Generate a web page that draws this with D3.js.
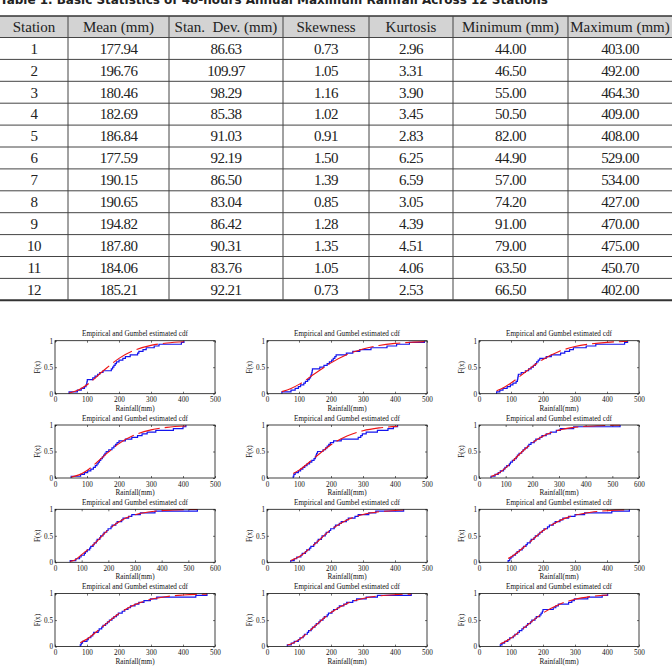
<!DOCTYPE html>
<html lang="en">
<head>
<meta charset="UTF-8">
<title>Basic Statistics of 48-hours Annual Maximum Rainfall</title>
<script src="https://cdn.jsdelivr.net/npm/d3@7"></script>
<style>
  * { margin:0; padding:0; box-sizing:border-box }
  body { background:#fff; width:672px; height:666px; overflow:hidden; }
  svg { display:block; }
  .cell { font-family:'Liberation Serif','Times New Roman',serif; font-size:15px; fill:#222; }
  .num { letter-spacing:-0.6px; }
</style>
</head>
<body>
<svg id="chart" width="672" height="666"></svg>
<script>
// ── Table values ─────────────────────────────
const headers   = ["Station","Mean (mm)","Stan.  Dev. (mm)","Skewness","Kurtosis","Minimum (mm)","Maximum (mm)"];
const stations  = [1,2,3,4,5,6,7,8,9,10,11,12];
const means     = [177.94,196.76,180.46,182.69,186.84,177.59,190.15,190.65,194.82,187.80,184.06,185.21];
const stdDevs   = [86.63,109.97,98.29,85.38,91.03,92.19,86.50,83.04,86.42,90.31,83.76,92.21];
const skewness  = [0.73,1.05,1.16,1.02,0.91,1.50,1.39,0.85,1.28,1.35,1.05,0.73];
const kurtosis  = [2.96,3.31,3.90,3.45,2.83,6.25,6.59,3.05,4.39,4.51,4.06,2.53];
const minimums  = [44.00,46.50,55.00,50.50,82.00,44.90,57.00,74.20,91.00,79.00,63.50,66.50];
const maximums  = [403.00,492.00,464.30,409.00,408.00,529.00,534.00,427.00,470.00,475.00,450.70,402.00];

// ── Plot values ──
const xMax = [500,500,500,500,500,600,600,500,500,500,500,500];

// sorted annual maxima per station (empirical cdf steps)
const rain = [
  [44,70,82,92,97,99,100,101,118,125,133,140,150,176,180,184,188,192,200,212,220,235,258,262,275,285,310,325,395,403],
  [46.5,75,88,98,105,115,120,127,132,136,138,140,141,142,165,178,188,195,202,207,212,216,248,268,290,325,375,405,445,492],
  [55,65,75,88,98,106,116,120,121,122,123,132,145,155,163,170,176,180,185,190,210,226,255,268,283,295,335,365,455,464.3],
  [50.5,80,92,102,112,120,126,131,135,139,143,148,152,156,160,168,178,184,189,194,200,220,240,258,272,288,315,370,400,409],
  [82,84,88,98,105,112,118,125,133,140,147,151,153,155,158,175,183,188,193,198,208,232,285,293,298,310,345,378,395,408],
  [44.9,60,72,80,92,97,104,114,118,125,133,140,144,150,160,165,172,182,187,195,207,213,228,236,252,268,290,305,355,529],
  [57,78,92,98,110,114,121,130,134,143,147,155,158,168,171,180,184,194,199,210,214,228,233,250,255,276,288,320,375,534],
  [74.2,85,93,106,110,120,124,133,137,146,149,157,160,170,172,182,185,195,199,210,214,226,232,248,254,275,285,318,340,427],
  [91,96,100,106,114,119,126,135,139,147,151,160,163,172,176,185,190,198,203,214,220,232,238,253,262,280,300,330,415,470],
  [79,82,86,100,104,112,118,121,135,138,146,150,158,164,170,178,184,192,198,210,218,228,236,250,262,278,298,318,440,475],
  [63.5,76,85,98,103,113,117,126,130,138,142,150,154,162,166,175,179,188,192,203,208,220,226,240,249,268,280,310,345,450.7],
  [66.5,72,80,90,96,107,112,121,126,134,139,148,152,161,165,175,179,190,194,198,200,232,240,248,280,290,298,340,385,402]
];

// Gumbel estimated cdf, [rainfall, F]
const gumbel = [
  [[44,0.017],[50,0.024],[75,0.076],[100,0.169],[150,0.428],[200,0.667],[250,0.824],[300,0.912],[350,0.957],[403,0.980]],
  [[46.5,0.039],[75,0.098],[100,0.176],[150,0.380],[200,0.582],[250,0.740],[300,0.845],[350,0.910],[400,0.949],[450,0.971],[492,0.982]],
  [[55,0.056],[75,0.108],[100,0.201],[150,0.434],[200,0.647],[250,0.797],[300,0.889],[350,0.940],[400,0.969],[450,0.984],[464.3,0.986]],
  [[50.5,0.017],[75,0.059],[100,0.143],[150,0.400],[200,0.649],[250,0.815],[300,0.908],[350,0.956],[409,0.981]],
  [[82,0.086],[100,0.148],[150,0.389],[200,0.627],[250,0.794],[300,0.892],[350,0.945],[408,0.975]],
  [[44.9,0.029],[75,0.096],[100,0.192],[150,0.439],[200,0.663],[250,0.815],[300,0.903],[350,0.950],[400,0.975],[450,0.987],[529,0.996]],
  [[57,0.018],[75,0.045],[100,0.145],[150,0.361],[200,0.616],[250,0.794],[300,0.896],[350,0.949],[400,0.975],[450,0.988],[534,0.997]],
  [[74.2,0.034],[100,0.103],[150,0.349],[200,0.615],[250,0.799],[300,0.902],[350,0.953],[400,0.978],[427,0.986]],
  [[91,0.073],[100,0.101],[150,0.336],[200,0.595],[250,0.781],[300,0.889],[350,0.945],[400,0.974],[470,0.991]],
  [[79,0.072],[100,0.142],[150,0.383],[200,0.624],[250,0.793],[300,0.892],[350,0.946],[400,0.973],[475,0.991]],
  [[63.5,0.029],[75,0.051],[100,0.131],[150,0.388],[200,0.644],[250,0.815],[300,0.909],[350,0.957],[400,0.980],[450.7,0.991]],
  [[66.5,0.054],[75,0.074],[100,0.160],[150,0.401],[200,0.634],[250,0.796],[300,0.893],[350,0.945],[402,0.973]]
];

const svg = d3.select("#chart");

// ── Caption (top half cut off in the original) ──
svg.append("text")
  .attr("x", 0).attr("y", 4)
  .attr("textLength", 548).attr("lengthAdjust", "spacingAndGlyphs")
  .style("font-family", "'DejaVu Sans',sans-serif")
  .style("font-weight", 700).style("font-size", "13px").attr("fill", "#222")
  .text("Table 1. Basic Statistics of 48-hours Annual Maximum Rainfall Across 12 Stations");

// ── Table ────────────────────────────────────
const colEdges = [0,68,169,283,369,453,568,672];
const tTop = 16, headH = 21.5, rowH = 21.9;
const tBottom = tTop + headH + rowH * stations.length;
const fmt = d3.format(".2f");
const rows = stations.map((s,i) => [String(s), fmt(means[i]), fmt(stdDevs[i]), fmt(skewness[i]),
                                    fmt(kurtosis[i]), fmt(minimums[i]), fmt(maximums[i])]);

const table = svg.append("g");
table.append("rect")
  .attr("x", 0).attr("y", tTop).attr("width", 672).attr("height", headH)
  .attr("fill", "#d3d3d3");

table.selectAll("text.head")
  .data(headers)
  .join("text")
  .attr("class", "cell")
  .attr("x", (d,i) => (colEdges[i] + colEdges[i+1]) / 2)
  .attr("y", tTop + headH / 2).attr("dy", "0.35em")
  .attr("text-anchor", "middle")
  .style("white-space", "pre")
  .text(d => d);

rows.forEach((r, ri) => {
  table.selectAll(null)
    .data(r)
    .join("text")
    .attr("class", "cell num")
    .attr("x", (d,i) => (colEdges[i] + colEdges[i+1]) / 2)
    .attr("y", tTop + headH + rowH * (ri + 0.5)).attr("dy", "0.35em")
    .attr("text-anchor", "middle")
    .text(d => d);
});

// horizontal rules
const hLines = [tTop + headH].concat(stations.slice(0, -1).map((s,i) => tTop + headH + rowH * (i + 1)));
table.selectAll("line.h")
  .data(hLines)
  .join("line")
  .attr("x1", 0).attr("x2", 672)
  .attr("y1", d => d).attr("y2", d => d)
  .attr("stroke", "#444").attr("stroke-width", 1);
table.append("line").attr("x1", 0).attr("x2", 672).attr("y1", tTop).attr("y2", tTop)
  .attr("stroke", "#333").attr("stroke-width", 1.6);
table.append("line").attr("x1", 0).attr("x2", 672).attr("y1", tBottom).attr("y2", tBottom)
  .attr("stroke", "#333").attr("stroke-width", 2);
// vertical rules
table.selectAll("line.v")
  .data(colEdges.slice(1, -1))
  .join("line")
  .attr("x1", d => d).attr("x2", d => d)
  .attr("y1", tTop).attr("y2", tBottom)
  .attr("stroke", "#444").attr("stroke-width", 1);

// ── CDF panels ───────────────────────────────
const colLeft = [55, 267, 479];
const rowTop  = [340.7, 425, 509.3, 593.6];
const axW = 160, axH = 53;
const serif = "'Liberation Serif','Times New Roman',serif";

stations.forEach((s, k) => {
  const g = svg.append("g")
    .attr("transform", `translate(${colLeft[k % 3]},${rowTop[Math.floor(k / 3)]})`);

  const x = d3.scaleLinear().domain([0, xMax[k]]).range([0, axW]);
  const y = d3.scaleLinear().domain([0, 1]).range([axH, 0]);
  const xt = d3.range(0, xMax[k] + 1, 100);

  const ax = (sel) => { sel.select(".domain").remove(); sel.selectAll("line").attr("stroke", "#111").attr("stroke-width", 0.6); };

  g.append("g").attr("transform", `translate(0,${axH})`)
    .call(d3.axisBottom(x).tickValues(xt).tickSize(-2).tickPadding(3.5).tickFormat(d3.format("d")))
    .call(ax);
  g.append("g")
    .call(d3.axisTop(x).tickValues(xt).tickSize(-2).tickFormat(""))
    .call(ax);
  g.append("g")
    .call(d3.axisLeft(y).tickValues([0, 0.5, 1]).tickSize(-2).tickPadding(2).tickFormat(d => String(d)))
    .call(ax);
  g.append("g").attr("transform", `translate(${axW},0)`)
    .call(d3.axisRight(y).tickValues([0, 0.5, 1]).tickSize(-2).tickFormat(""))
    .call(ax);
  g.selectAll(".tick text").style("font-family", serif).style("font-size", "7.2px").attr("fill", "#111");

  // empirical cdf (stairs)
  const v = rain[k], n = v.length;
  const steps = [[v[0], 0]].concat(v.map((d, i) => [d, (i + 1) / n]));
  g.append("path")
    .datum(steps)
    .attr("fill", "none").attr("stroke", "#1414ee").attr("stroke-width", 1.2)
    .attr("d", d3.line().x(d => x(d[0])).y(d => y(d[1])).curve(d3.curveStepAfter));

  // Gumbel estimated cdf
  g.append("path")
    .datum(gumbel[k])
    .attr("fill", "none").attr("stroke", "#ee1414").attr("stroke-width", 1.1)
    .attr("stroke-dasharray", "22,5")
    .attr("d", d3.line().x(d => x(d[0])).y(d => y(d[1])).curve(d3.curveMonotoneX));

  // box
  g.append("rect").attr("width", axW).attr("height", axH)
    .attr("fill", "none").attr("stroke", "#111").attr("stroke-width", 0.8);

  const label = (t) => t.attr("text-anchor", "middle").attr("fill", "#111")
    .style("font-family", serif).style("font-size", "7.2px");

  g.append("text").attr("x", axW / 2).attr("y", -4.5).call(label)
    .text("Empirical and Gumbel estimated cdf");
  g.append("text").attr("x", axW / 2).attr("y", axH + 17).call(label)
    .text("Rainfall(mm)");
  g.append("text").attr("transform", `translate(-15,${axH / 2}) rotate(-90)`).call(label)
    .text("F(x)");
});
</script>
</body>
</html>
